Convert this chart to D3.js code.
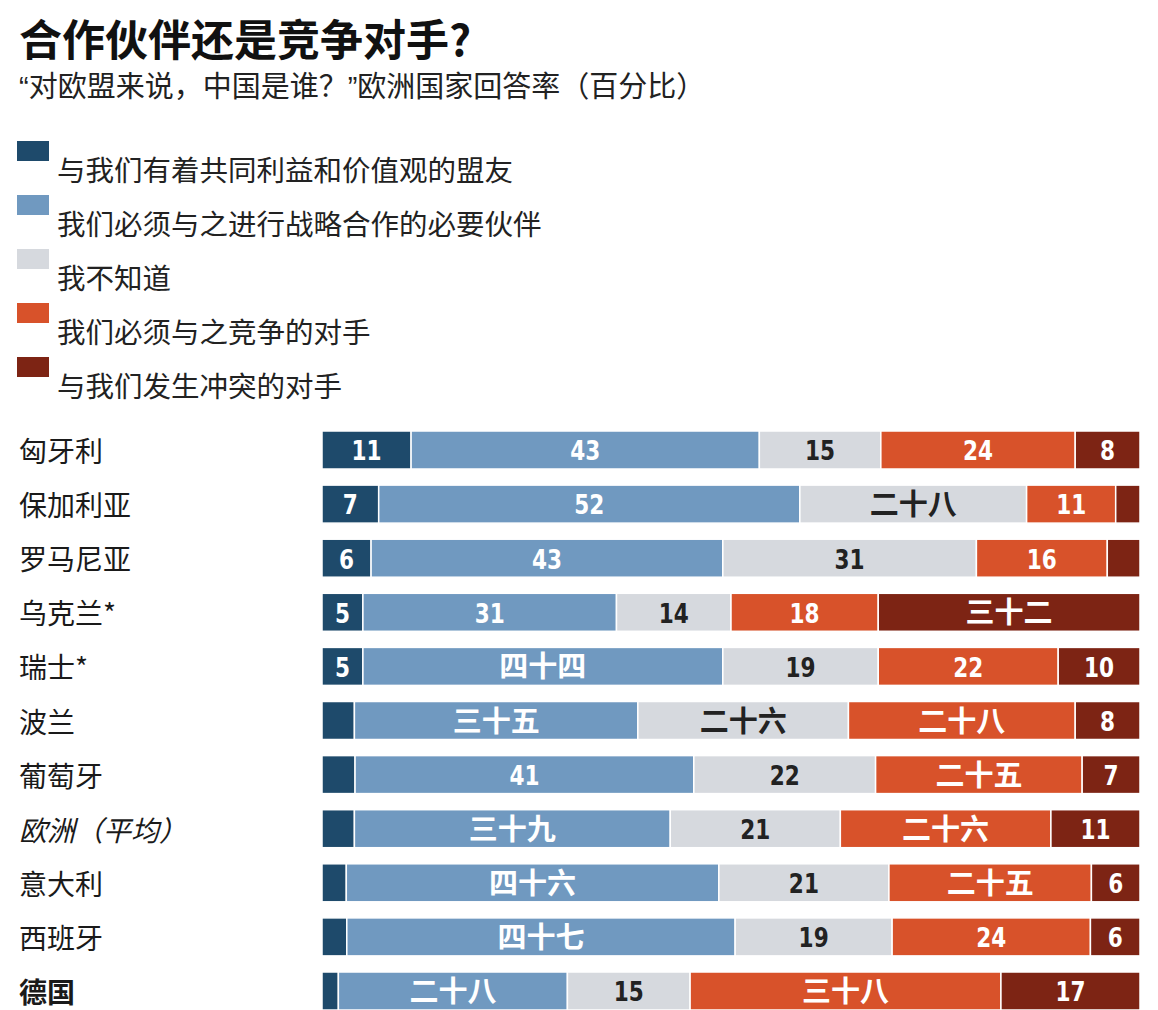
<!DOCTYPE html>
<html><head><meta charset="utf-8">
<script src="https://cdn.jsdelivr.net/npm/d3@7"></script>
<style>
html,body{margin:0;padding:0;background:#fff;}
svg{display:block;}
</style>
</head><body>
<svg id="chart" width="1158" height="1010"></svg>
<script>
const title = "合作伙伴还是竞争对手?";
const subtitle = "“对欧盟来说，中国是谁？”欧洲国家回答率（百分比）";
const seriesNames = ["与我们有着共同利益和价值观的盟友","我们必须与之进行战略合作的必要伙伴","我不知道","我们必须与之竞争的对手","与我们发生冲突的对手"];
const seriesKeys = ["allies","partners","dontKnow","competitors","rivals"];
const seriesColors = ["#1e4a6b","#7099c0","#d6d9de","#d8522a","#7d2414"];
const countries = ["匈牙利","保加利亚","罗马尼亚","乌克兰*","瑞士*","波兰","葡萄牙","欧洲（平均）","意大利","西班牙","德国"];
const allies      = [11, 7, 6, 5, 5, 4, 4, 4, 3, 3, 2];
const partners    = [43,52,43,31,44,35,41,39,46,47,28];
const dontKnow    = [15,28,31,14,19,26,22,21,21,19,15];
const competitors = [24,11,16,18,22,28,25,26,25,24,38];
const rivals      = [ 8, 3, 4,32,10, 8, 7,11, 6, 6,17];
const alliesLabels      = ["11","7","6","5","5","","","","","",""];
const partnersLabels    = ["43","52","43","31","四十四","三十五","41","三十九","四十六","四十七","二十八"];
const dontKnowLabels    = ["15","二十八","31","14","19","二十六","22","21","21","19","15"];
const competitorsLabels = ["24","11","16","18","22","二十八","二十五","二十六","二十五","24","三十八"];
const rivalsLabels      = ["8","","","三十二","10","8","7","11","6","6","17"];

const valueArrays = [allies, partners, dontKnow, competitors, rivals];
const labelArrays = [alliesLabels, partnersLabels, dontKnowLabels, competitorsLabels, rivalsLabels];

const rows = countries.map((c, i) => {
  const r = {country: c, idx: i};
  seriesKeys.forEach((k, j) => { r[k] = valueArrays[j][i]; });
  return r;
});

const cjk = '"Noto Sans CJK SC", "Microsoft YaHei", sans-serif';
const mixed = '"Liberation Sans", "Noto Sans CJK SC", sans-serif';
const numFont = '"DejaVu Sans", "Noto Sans CJK SC", sans-serif';

const svg = d3.select("#chart");
svg.append("rect").attr("width",1158).attr("height",1010).attr("fill","#fff");

svg.append("text").attr("x",19).attr("y",37).attr("dominant-baseline","central")
  .attr("font-family",cjk).attr("font-weight",700).attr("font-size",43).attr("fill","#111")
  .text(title);
svg.append("text").attr("x",19).attr("y",87).attr("dominant-baseline","central")
  .attr("font-family",mixed).attr("font-size",29).attr("fill","#222")
  .text(subtitle);

// legend
const legend = svg.append("g");
seriesNames.forEach((name, i) => {
  const g = legend.append("g").attr("transform", `translate(0, ${i*54})`);
  g.append("rect").attr("x",17).attr("y",141).attr("width",32).attr("height",20).attr("fill",seriesColors[i]);
  g.append("text").attr("x",57).attr("y",168).attr("dominant-baseline","central")
    .attr("font-family",cjk).attr("font-size",28.5).attr("fill","#222").text(name);
});

const stack = d3.stack().keys(seriesKeys).offset(d3.stackOffsetExpand);
const stacked = stack(rows);

const x = d3.scaleLinear().domain([0,1]).range([322,1140]);
const y = d3.scaleBand().domain(countries).range([431, 1010]).paddingInner(0.2976).paddingOuter(0);

// category labels
svg.append("g").selectAll("text").data(countries).join("text")
  .attr("x",19).attr("y", d => y(d) + y.bandwidth()/2)
  .attr("dominant-baseline","central")
  .attr("font-family",cjk).attr("font-size",28).attr("fill","#1a1a1a")
  .attr("font-weight", d => d === "德国" ? 700 : 400)
  .attr("font-style", d => d === "欧洲（平均）" ? "italic" : "normal")
  .text(d => d);

const layers = svg.append("g").selectAll("g").data(stacked).join("g")
  .attr("fill", (d,i) => seriesColors[i]);

layers.selectAll("rect").data(d => d).join("rect")
  .attr("x", d => x(d[0]))
  .attr("y", d => y(d.data.country))
  .attr("width", d => Math.max(0, x(d[1]) - x(d[0])))
  .attr("height", y.bandwidth())
  .attr("stroke","#fff").attr("stroke-width",1.5);

// value labels
const isNum = s => /^\d+$/.test(s);
const labelsG = svg.append("g");
stacked.forEach((layer, j) => {
  labelsG.append("g").selectAll("text").data(layer).join("text")
    .attr("transform", d => {
      const lab = labelArrays[j][d.data.idx];
      const cx = (x(d[0]) + x(d[1]))/2;
      const cy = y(d.data.country) + y.bandwidth()/2 + (isNum(lab) ? 1 : -2);
      return `translate(${cx},${cy}) scale(${isNum(lab) ? 0.8 : 1},1)`;
    })
    .attr("text-anchor","middle").attr("dominant-baseline","central")
    .attr("font-family", d => isNum(labelArrays[j][d.data.idx]) ? numFont : cjk)
    .attr("font-weight",700)
    .attr("font-size", d => isNum(labelArrays[j][d.data.idx]) ? 27 : 29)
    .attr("fill", j === 2 ? "#222" : "#fff")
    .text(d => labelArrays[j][d.data.idx]);
});
</script>
</body></html>
